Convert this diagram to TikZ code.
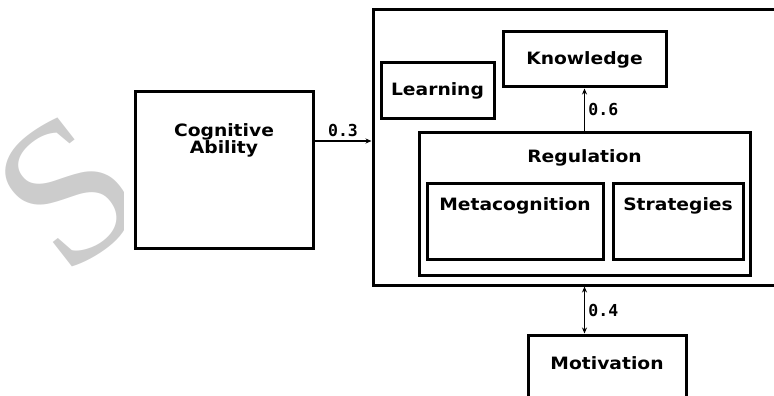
\documentclass[tikz,border=0pt]{standalone}
\usepackage{fontspec}
\setmainfont{DejaVu Sans}[FakeStretch=1.1]
\newfontfamily\numfont{DejaVu Sans Mono}
\newfontfamily\markfont{Liberation Serif}
\usetikzlibrary{arrows.meta}

\tikzset{
    box/.style={draw, line width=3pt, fill=white, inner sep=0pt},
    arr/.style={-{Stealth[length=6pt,width=5pt]}, line width=1.3pt},
    darr/.style={{Stealth[length=6pt,width=5pt]}-{Stealth[length=6pt,width=5pt]}, line width=1.3pt},
    coef/.style={font=\numfont\bfseries\fontsize{16.5}{16.5}\selectfont},
    head/.style={anchor=north, font=\bfseries\fontsize{17}{17}\selectfont, align=center}
}

\begin{document}
\begin{tikzpicture}[x=1pt, y=-1pt, font=\bfseries\fontsize{17}{17}\selectfont]
    \useasboundingbox (0,0) rectangle (774,396);
    \clip (0,0) rectangle (774,396);

    % watermark
    \begin{scope}
        \clip (0,0) rectangle (123,396);
        \node[text=gray!40, rotate=38, inner sep=0pt, font=\markfont\fontsize{205}{205}\selectfont] (mark) at (68,192) {S};
    \end{scope}

    % outer block
    \node[box, minimum width=440pt, minimum height=275pt] (outer) at (593,147.5) {};

    \node[box, minimum width=178pt, minimum height=156pt,
        label={[head, yshift=-30pt]north:Cognitive\\Ability}] (cog) at (224,170) {};

    \node[box, minimum width=113pt, minimum height=55pt] (learn) at (437.5,90.5) {Learning};
    \node[box, minimum width=163pt, minimum height=55pt] (know) at (584.5,59.5) {Knowledge};

    \node[box, minimum width=331pt, minimum height=143pt,
        label={[head, yshift=-16pt]north:Regulation}] (reg) at (584.5,203.5) {};
    \node[box, minimum width=176pt, minimum height=76pt,
        label={[head, yshift=-13pt]north:Metacognition}] (meta) at (515,221) {};
    \node[box, minimum width=130pt, minimum height=76pt,
        label={[head, yshift=-13pt]north:Strategies}] (strat) at (678,221) {};

    \node[box, minimum width=158pt, minimum height=90pt,
        label={[head, yshift=-20pt]north:Motivation}] (motiv) at (607,380) {};

    % paths
    \draw[arr] ([yshift=29pt]cog.east) -- ([yshift=29pt]cog.east -| outer.west)
        node[midway, above, coef] {0.3};
    \draw[arr] (reg.north) -- (know.south) node[midway, right, coef] {0.6};
    \draw[darr] (reg.south |- outer.south) -- (reg.south |- motiv.north)
        node[midway, right, coef] {0.4};
\end{tikzpicture}
\end{document}
